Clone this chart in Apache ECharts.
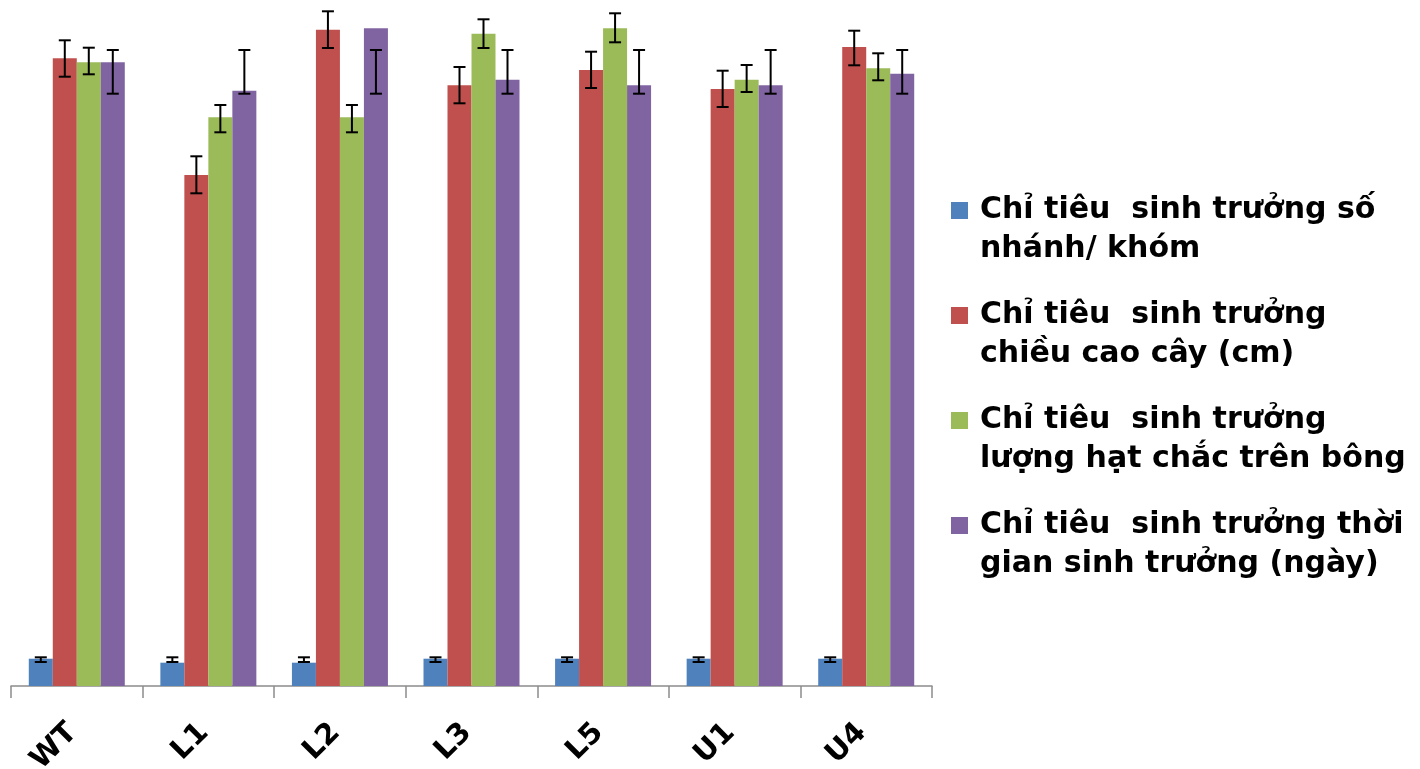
<!DOCTYPE html>
<html>
<head>
<meta charset="utf-8">
<script src="https://cdn.jsdelivr.net/npm/echarts@6/dist/echarts.min.js"></script>
<style>
html,body{margin:0;padding:0;background:#fff;}
#chart{width:1420px;height:769px;}
</style>
</head>
<body>
<div id="chart"></div>
<script>
// Categories (lines)
const categories = ['WT', 'L1', 'L2', 'L3', 'L5', 'U1', 'U4'];
// Series names (legend text)
const seriesNames = [
  'Chỉ tiêu  sinh trưởng số\nnhánh/ khóm',
  'Chỉ tiêu  sinh trưởng\nchiều cao cây (cm)',
  'Chỉ tiêu  sinh trưởng\nlượng hạt chắc trên bông',
  'Chỉ tiêu  sinh trưởng thời\ngian sinh trưởng (ngày)'
];
// Values (relative units; the chart has no value axis)
const branchCount      = [27.3, 23.3, 23.3, 27.3, 27.3, 27.3, 27.3];
const branchCountLow   = [24.0, 24.0, 24.0, 24.0, 24.0, 24.0, 24.0];
const branchCountHigh  = [28.7, 28.7, 28.7, 28.7, 28.7, 28.7, 28.7];

const plantHeight      = [627.7, 511.0, 656.3, 600.7, 616.0, 597.0, 639.0];
const plantHeightLow   = [609.3, 492.7, 638.0, 582.7, 598.0, 579.0, 620.7];
const plantHeightHigh  = [645.7, 529.7, 674.7, 619.0, 634.3, 615.3, 655.3];

const filledGrains     = [623.7, 568.7, 568.7, 652.3, 657.7, 606.3, 617.7];
const filledGrainsLow  = [611.7, 553.7, 553.7, 638.0, 643.7, 594.0, 605.7];
const filledGrainsHigh = [638.3, 581.0, 581.0, 666.7, 672.7, 621.0, 632.7];

const growthDays       = [623.7, 595.3, 657.7, 606.3, 600.7, 600.7, 612.3];
const growthDaysLow    = [592.3, 592.3, 592.3, 592.3, 592.3, 592.3, 592.3];
const growthDaysHigh   = [636.0, 636.0, 636.0, 636.0, 636.0, 636.0, 636.0];

const colors = ['#4F81BD', '#C0504D', '#9BBB59', '#8064A2'];
const BAR_W = 24;
const FONT = '"DejaVu Sans", "Liberation Sans", Arial, sans-serif';

const values = [branchCount, plantHeight, filledGrains, growthDays];
const lows = [branchCountLow, plantHeightLow, filledGrainsLow, growthDaysLow];
const highs = [branchCountHigh, plantHeightHigh, filledGrainsHigh, growthDaysHigh];

const chart = echarts.init(document.getElementById('chart'), null, {renderer: 'canvas'});

const barSeries = values.map((v, k) => ({
  name: seriesNames[k],
  type: 'bar',
  data: v,
  barWidth: BAR_W,
  barGap: '0%',
  itemStyle: {color: colors[k]},
  z: 2
}));

const errSeries = values.map((v, k) => ({
  name: 'err' + k,
  type: 'custom',
  z: 5,
  encode: {x: 0, y: [1, 2]},
  data: categories.map((c, i) => [i, lows[k][i], highs[k][i]]),
  renderItem: function (params, api) {
    const ci = api.value(0);
    const pHi = api.coord([ci, api.value(2)]);
    const pLo = api.coord([ci, api.value(1)]);
    const x = pHi[0] + (k - 1.5) * BAR_W;
    const cap = 6;
    const style = {stroke: '#000', lineWidth: 2};
    return {
      type: 'group',
      children: [
        {type: 'line', shape: {x1: x, y1: pHi[1], x2: x, y2: pLo[1]}, style: style},
        {type: 'line', shape: {x1: x - cap, y1: pHi[1], x2: x + cap, y2: pHi[1]}, style: style},
        {type: 'line', shape: {x1: x - cap, y1: pLo[1], x2: x + cap, y2: pLo[1]}, style: style}
      ]
    };
  }
}));

chart.setOption({
  animation: false,
  backgroundColor: '#fff',
  grid: {left: 11, right: 488, top: 8, bottom: 83, containLabel: false, outerBoundsMode: 'none'},
  legend: {
    orient: 'vertical',
    left: 951,
    top: 152,
    padding: 0,
    itemWidth: 17,
    itemHeight: 17,
    itemGap: -12,
    icon: 'rect',
    data: seriesNames,
    formatter: function (name) { return '\n' + name; },
    textStyle: {
      fontFamily: FONT,
      fontWeight: 'bold',
      fontSize: 30,
      lineHeight: 39,
      color: '#000',
      padding: [0, 0, 0, 7]
    }
  },
  xAxis: {
    type: 'category',
    data: categories,
    axisLine: {lineStyle: {color: '#8c8c8c', width: 1.5}},
    axisTick: {show: true, length: 12, lineStyle: {color: '#8c8c8c', width: 1.5}},
    axisLabel: {
      interval: 0,
      rotate: 45,
      margin: 38,
      padding: [0, 6, 0, 0],
      fontFamily: FONT,
      fontWeight: 'bold',
      fontSize: 29,
      color: '#000'
    }
  },
  yAxis: {
    type: 'value',
    min: 0,
    max: 678,
    show: false,
    splitLine: {show: false}
  },
  series: barSeries.concat(errSeries)
});
</script>
</body>
</html>
